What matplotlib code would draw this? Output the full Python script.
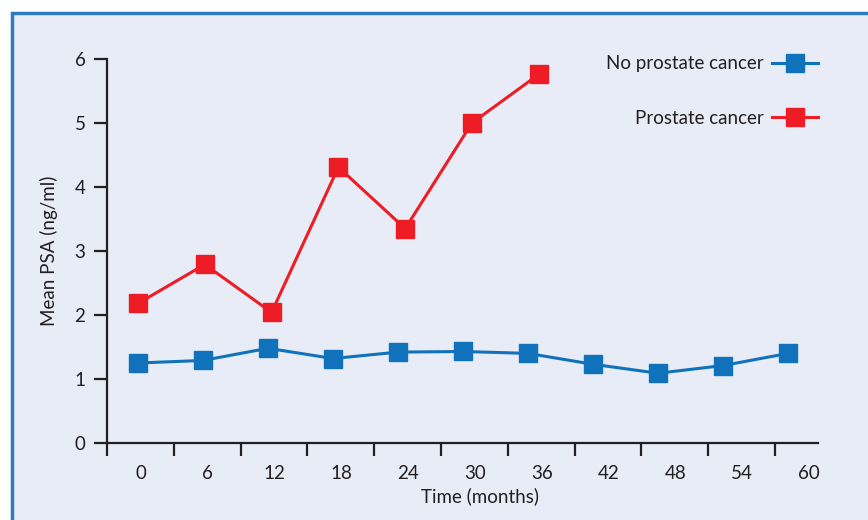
import matplotlib
matplotlib.use("Agg")
import matplotlib.pyplot as plt
from matplotlib.patches import Rectangle
import numpy as np

# data
months = [0, 6, 12, 18, 24, 30, 36, 42, 48, 54, 60]
psa_no_cancer = [1.25, 1.29, 1.48, 1.32, 1.42, 1.43, 1.40, 1.23, 1.09, 1.21, 1.40]
months_cancer = [0, 6, 12, 18, 24, 30, 36]
psa_cancer = [2.18, 2.79, 2.04, 4.31, 3.35, 5.00, 5.76]
y_ticks = [0, 1, 2, 3, 4, 5, 6]

BLUE = "#1072BA"
RED = "#EE1C25"
BG = "#E8ECF6"
INK = "#231F20"
FS = 13.5

plt.rcParams["font.family"] = ["Lato", "DejaVu Sans"]

fig = plt.figure(figsize=(8.68, 5.2), dpi=100)
fig.patch.set_facecolor("white")

# framed panel (top/left edges visible, right/bottom run off the image)
fig.patches.append(Rectangle((12 / 868, -0.05), 1.0, 1 - 13 / 520 + 0.05,
                             transform=fig.transFigure, facecolor=BG,
                             edgecolor="#2F7BC0", linewidth=2.5, zorder=-10))

ax = fig.add_axes([107 / 868, 1 - 443 / 520, (818 - 107) / 868, (443 - 59) / 520])
ax.set_facecolor("none")

# the printed category labels (and the red series) sit on a slightly
# wider grid than the blue series
step = 6 * 66.8 / 65.0
ax.plot(months, psa_no_cancer, color=BLUE, lw=2.2, marker="s", ms=13,
        mec=BLUE, mfc=BLUE, label="No prostate cancer", zorder=3)
ax.plot(np.array(months_cancer) / 6 * step, psa_cancer, color=RED, lw=2.2,
        marker="s", ms=13, mec=RED, mfc=RED, label="Prostate cancer", zorder=3)

lab_pos = np.arange(len(months)) * step + 0.28
ax.set_xlim(-2.86, 62.77)
ax.set_xticks(lab_pos - step / 2 - 0.05)
ax.set_xticklabels([])
ax.set_xticks(lab_pos, minor=True)
ax.set_xticklabels([str(m) for m in months], minor=True)
ax.tick_params(axis="x", which="major", direction="out", length=9, width=1.6, color=INK)
ax.tick_params(axis="x", which="minor", length=0, pad=15.5, labelsize=FS, labelcolor=INK)

ax.set_ylim(0, 6)
ax.set_yticks(y_ticks)
ax.tick_params(axis="y", direction="out", length=9.5, width=1.6, color=INK,
               pad=6, labelsize=FS, labelcolor=INK)

for side in ("top", "right"):
    ax.spines[side].set_visible(False)
for side in ("left", "bottom"):
    ax.spines[side].set_linewidth(1.6)
    ax.spines[side].set_color(INK)

ax.set_ylabel("Mean PSA (ng/ml)", fontsize=FS, color=INK, labelpad=12)
ax.set_xlabel("Time (months)", fontsize=FS, color=INK)
ax.xaxis.set_label_coords(0.525, -0.115)

ax.legend(loc="upper right", bbox_to_anchor=(1.0, 1.01), markerfirst=False,
          frameon=False, fontsize=FS, handlelength=2.45, handletextpad=0.45,
          labelspacing=2.0, borderaxespad=0.0, borderpad=0.0, labelcolor=INK)

fig.savefig("out.png", dpi=100, facecolor=fig.get_facecolor())
